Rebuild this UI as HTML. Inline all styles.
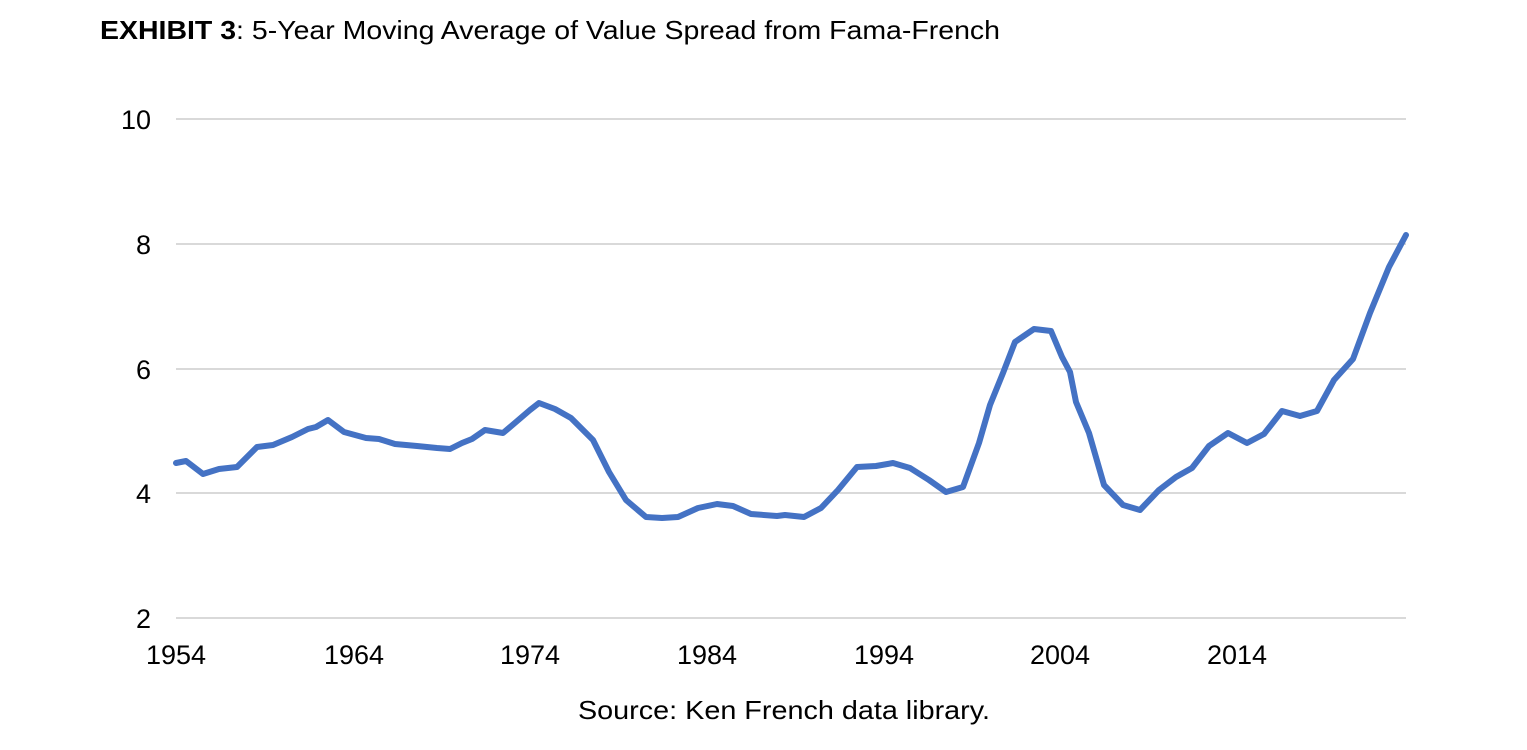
<!DOCTYPE html>
<html><head><meta charset="utf-8"><style>
body{margin:0;background:#fff;}
svg{display:block}
</style></head><body>
<svg width="1527" height="750" xmlns="http://www.w3.org/2000/svg">
<text x="100" y="39" font-family="'Liberation Sans', sans-serif" font-size="26" fill="#000" textLength="900" lengthAdjust="spacingAndGlyphs"><tspan font-weight="bold">EXHIBIT 3</tspan>: 5-Year Moving Average of Value Spread from Fama-French</text>
<g stroke="#d9d9d9" stroke-width="2">
<line x1="176" y1="119" x2="1406" y2="119"/>
<line x1="176" y1="244" x2="1406" y2="244"/>
<line x1="176" y1="369" x2="1406" y2="369"/>
<line x1="176" y1="493" x2="1406" y2="493"/>
<line x1="176" y1="618" x2="1406" y2="618"/>
</g>
<g font-family="'Liberation Sans', sans-serif" font-size="27" fill="#000" text-anchor="end">
<text x="151" y="129">10</text>
<text x="151" y="254">8</text>
<text x="151" y="379">6</text>
<text x="151" y="503">4</text>
<text x="151" y="628">2</text>
</g>
<g font-family="'Liberation Sans', sans-serif" font-size="27" fill="#000" text-anchor="middle">
<text x="176" y="664">1954</text>
<text x="354" y="664">1964</text>
<text x="530" y="664">1974</text>
<text x="707" y="664">1984</text>
<text x="884" y="664">1994</text>
<text x="1060" y="664">2004</text>
<text x="1237" y="664">2014</text>
</g>
<polyline fill="none" stroke="#4472c4" stroke-width="6" stroke-linejoin="round" stroke-linecap="round" points="176,463 186,461 203,474 219,469 237,467 257,447 273,445 292,437 308,429 316,427 328,420 344,432 366,438 379,439 395,444 417,446 437,448 450,449 462,443 472,439 485,430 503,433 516,422 530,410 539,403 555,409 571,418 593,440 609,472 626,500 646,517 662,518 678,517 698,508 717,504 733,506 751,514 777,516 785,515 804,517 821,508 838,490 857,467 876,466 893,463 910,468 929,480 946,492 963,487 979,443 990,405 1003,373 1015,342 1034,329 1051,331 1062,357 1070,372 1076,402 1089,433 1104,485 1123,505 1140,510 1159,490 1176,477 1192,468 1209,446 1228,433 1247,443 1264,434 1282,411 1300,416 1317,411 1334,380 1353,359 1370,313 1389,267 1406,235"/>
<text x="784" y="719" font-family="'Liberation Sans', sans-serif" font-size="26" fill="#000" text-anchor="middle" textLength="412" lengthAdjust="spacingAndGlyphs">Source: Ken French data library.</text>
</svg>
</body></html>
